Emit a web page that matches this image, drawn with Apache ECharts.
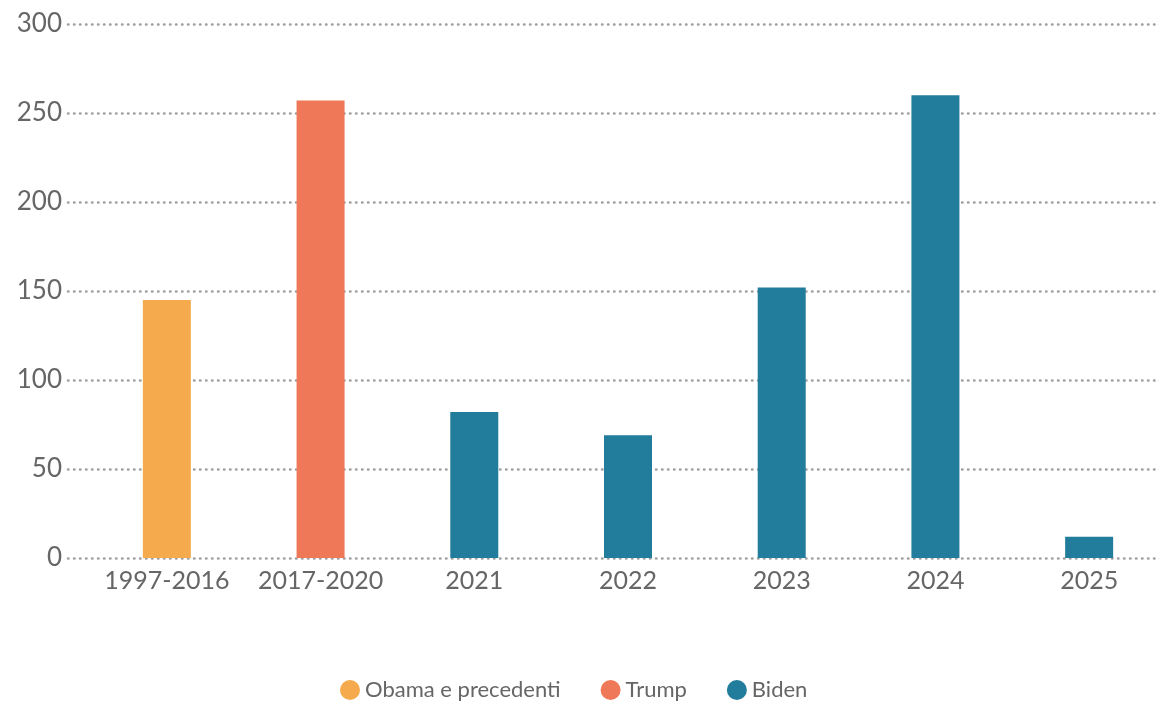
<!DOCTYPE html>
<html>
<head>
<meta charset="utf-8">
<script src="https://cdn.jsdelivr.net/npm/echarts@6/dist/echarts.min.js"></script>
<style>html,body{margin:0;padding:0;background:#fff;overflow:hidden}#c{width:1166px;height:702px}</style>
</head>
<body>
<div id="c"></div>
<script>
const categories = ['1997-2016', '2017-2020', '2021', '2022', '2023', '2024', '2025'];
const values = [145, 257, 82, 69, 152, 260, 12];
const groupOf = ['Obama e precedenti', 'Trump', 'Biden', 'Biden', 'Biden', 'Biden', 'Biden'];
const seriesNames = ['Obama e precedenti', 'Trump', 'Biden'];
const seriesColors = ['#F5AA4D', '#EF7858', '#217D9B'];
const yTicks = [0, 50, 100, 150, 200, 250, 300];

const FONT = 'Lato, "Open Sans", sans-serif';
const chart = echarts.init(document.getElementById('c'), null, {renderer: 'canvas'});

const series = seriesNames.map((name, si) => ({
  name: name,
  type: 'bar',
  stack: 'all',
  xAxisIndex: 1,
  yAxisIndex: 1,
  barWidth: 48,
  itemStyle: {color: seriesColors[si]},
  data: values.map((v, i) => groupOf[i] === name ? v : '-')
}));

chart.setOption({
  animation: false,
  textStyle: {fontFamily: FONT},
  legend: {
    top: 674,
    left: 335,
    icon: 'circle',
    itemWidth: 20,
    itemHeight: 20,
    itemGap: 40,
    textStyle: {fontSize: 22, color: '#666', fontFamily: FONT},
    data: seriesNames
  },
  grid: [
    {left: 68, right: 0, top: 24, bottom: 144},
    {left: 90, right: 0, top: 24, bottom: 144}
  ],
  xAxis: [
    {type: 'category', gridIndex: 0, data: categories, show: false},
    {
      type: 'category', gridIndex: 1, data: categories,
      axisLine: {show: false}, axisTick: {show: false},
      axisLabel: {fontSize: 25, color: '#666', margin: 10, fontFamily: FONT, interval: 0}
    }
  ],
  yAxis: [
    {
      type: 'value', gridIndex: 0, min: yTicks[0], max: yTicks[yTicks.length - 1], interval: 50,
      axisLine: {show: false}, axisTick: {show: false},
      axisLabel: {fontSize: 26, color: '#666', margin: 6, fontFamily: FONT},
      splitLine: {show: true, lineStyle: {color: '#a0a0a0', width: 2.5, type: [0.5, 5.5], cap: 'round'}}
    },
    {
      type: 'value', gridIndex: 1, min: yTicks[0], max: yTicks[yTicks.length - 1], interval: 50,
      show: false, splitLine: {show: false}
    }
  ],
  series: series
});
</script>
</body>
</html>
